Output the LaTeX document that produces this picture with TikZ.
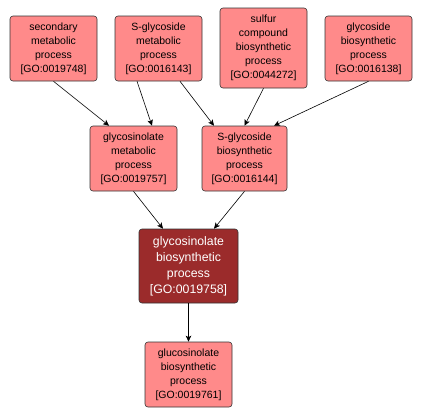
\documentclass[tikz,border=0pt]{standalone}
\usepackage{fontspec}
\setmainfont{Liberation Sans}
\usepackage{xcolor}
\usetikzlibrary{positioning,arrows.meta,calc}
\definecolor{golight}{HTML}{FF8A8A}
\definecolor{godark}{HTML}{9B2B2B}
\tikzset{
  isa/.style={-{Stealth[length=6pt, width=5.5pt, inset=1.5pt]}, color=black, line width=0.6pt},
  term/.style={rectangle, draw=black!80, line width=0.6pt, rounded corners=3pt, fill=golight,
    align=center, minimum width=87pt, minimum height=65pt, inner sep=1pt,
    font=\fontsize{10.5}{14}\selectfont},
  focus/.style={term, fill=godark, text=white, minimum width=99pt, minimum height=74pt,
    font=\fontsize{12.3}{16}\selectfont}
}
\begin{document}
\begin{tikzpicture}[x=1pt, y=-1pt]
\useasboundingbox (0,0) rectangle (421,416);
\node[term] (sec) at (53.5,48.5) {secondary\\metabolic\\process\\{[}GO:0019748{]}};
\node[term] (sgm) at (158.5,48.5) {S-glycoside\\metabolic\\process\\{[}GO:0016143{]}};
\node[term, minimum height=80pt] (sul) at (263.5,48) {sulfur\\compound\\biosynthetic\\process\\{[}GO:0044272{]}};
\node[term] (gbp) at (368.5,48.5) {glycoside\\biosynthetic\\process\\{[}GO:0016138{]}};
\node[term] (glm) at (133.5,158.5) {glycosinolate\\metabolic\\process\\{[}GO:0019757{]}};
\node[term, minimum width=85pt] (sgb) at (244.5,158.5) {S-glycoside\\biosynthetic\\process\\{[}GO:0016144{]}};
\node[focus] (gb) at (188.5,266) {glycosinolate\\biosynthetic\\process\\{[}GO:0019758{]}};
\node[term] (gc) at (188.5,374.5) {glucosinolate\\biosynthetic\\process\\{[}GO:0019761{]}};
\draw[isa] (sec.south) -- ($(glm.north)+(-24.5,0)$);
\draw[isa] ($(sgm.south)+(-21.5,0)$) -- ($(glm.north)+(18.5,0)$);
\draw[isa] ($(sgm.south)+(21.5,0)$) -- ($(sgb.north)+(-30.5,0)$);
\draw[isa] (sul.south) -- (sgb.north);
\draw[isa] (gbp.south) -- ($(sgb.north)+(29.5,0)$);
\draw[isa] (glm.south) -- ($(gb.north)+(-25.5,0)$);
\draw[isa] (sgb.south) -- ($(gb.north)+(25.5,0)$);
\draw[isa] (gb.south) -- (gc.north);
\end{tikzpicture}
\end{document}
